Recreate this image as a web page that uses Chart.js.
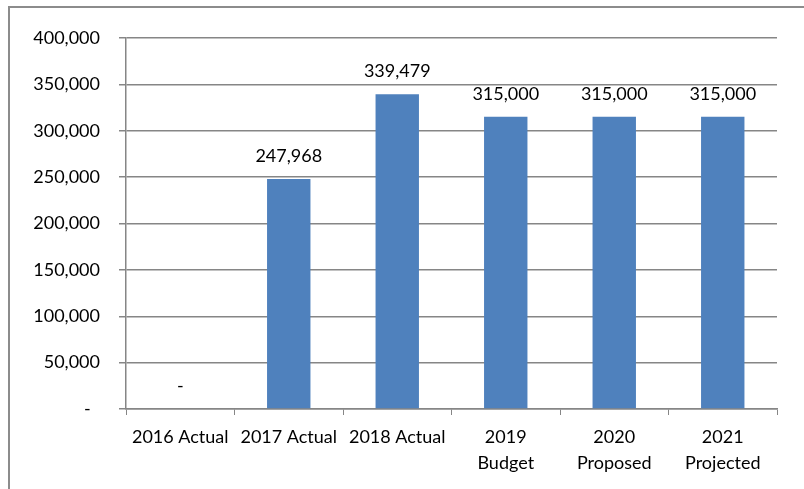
<!DOCTYPE html>
<html>
<head>
<meta charset="utf-8">
<script src="https://cdn.jsdelivr.net/npm/chart.js@4/dist/chart.umd.min.js"></script>
<style>
    body { margin: 0; background: #ffffff; overflow: hidden; }
    .frame {
        position: absolute;
        left: 8px;
        top: 6px;
        width: 830px;
        height: 520px;
        border-left: 2px solid #8c8c8c;
        border-top: 2px solid #8c8c8c;
    }
    .wrap { position: absolute; left: 0; top: 0; width: 804px; height: 489px; }
</style>
</head>
<body>
<div class="frame"></div>
<div class="wrap"><canvas id="budgetChart" width="804" height="489"></canvas></div>
<script>
// Yillar bo'yicha summalar
const categories = [
    '2016 Actual',
    '2017 Actual',
    '2018 Actual',
    ['2019', 'Budget'],
    ['2020', 'Proposed'],
    ['2021', 'Projected']
];
const amounts = [0, 247968, 339479, 315000, 315000, 315000];
const yTicks = [0, 50000, 100000, 150000, 200000, 250000, 300000, 350000, 400000];

const FONT = 'Lato, "Open Sans", sans-serif';

function formatAmount(value) {
    if (value === 0) return '-  ';
    return value.toLocaleString('en-US');
}

// Ustun ustidagi qiymatlar
const valueLabels = {
    id: 'valueLabels',
    afterDatasetsDraw(chart) {
        const ctx = chart.ctx;
        const meta = chart.getDatasetMeta(0);
        ctx.save();
        ctx.font = '18px ' + FONT;
        ctx.fillStyle = '#000000';
        ctx.textAlign = 'center';
        ctx.textBaseline = 'middle';
        meta.data.forEach((bar, i) => {
            const text = amounts[i] === 0 ? '-' : formatAmount(amounts[i]);
            ctx.fillText(text, bar.x, bar.y - 23);
        });
        ctx.restore();
    }
};

const ctx = document.getElementById('budgetChart');

new Chart(ctx, {
    type: 'bar',
    data: {
        labels: categories,
        datasets: [{
            data: amounts,
            backgroundColor: '#4f81bd',
            barPercentage: 0.4,
            categoryPercentage: 1.0
        }]
    },
    options: {
        responsive: false,
        animation: false,
        layout: {
            padding: { left: 0, right: 27, top: 38, bottom: 0 }
        },
        plugins: {
            legend: { display: false },
            tooltip: { enabled: false }
        },
        scales: {
            x: {
                offset: true,
                grid: {
                    offset: true,
                    drawOnChartArea: false,
                    drawTicks: true,
                    tickLength: 6,
                    color: '#868686'
                },
                border: { color: '#868686', width: 1.5 },
                ticks: {
                    color: '#000000',
                    font: { family: FONT, size: 18, lineHeight: 1.45 },
                    padding: 9,
                    maxRotation: 0,
                    autoSkip: false
                },
                afterFit(scale) {
                    scale.height = 80;
                }
            },
            y: {
                min: 0,
                max: 400000,
                afterBuildTicks(scale) {
                    scale.ticks = yTicks.map(v => ({ value: v }));
                },
                grid: {
                    color: '#868686',
                    lineWidth: 1.5,
                    tickLength: 7
                },
                border: { color: '#868686', width: 1.5 },
                ticks: {
                    color: '#000000',
                    font: { family: FONT, size: 18 },
                    padding: 19,
                    callback: value => formatAmount(value)
                },
                afterFit(scale) {
                    scale.width = 126;
                }
            }
        }
    },
    plugins: [valueLabels]
});
</script>
</body>
</html>
